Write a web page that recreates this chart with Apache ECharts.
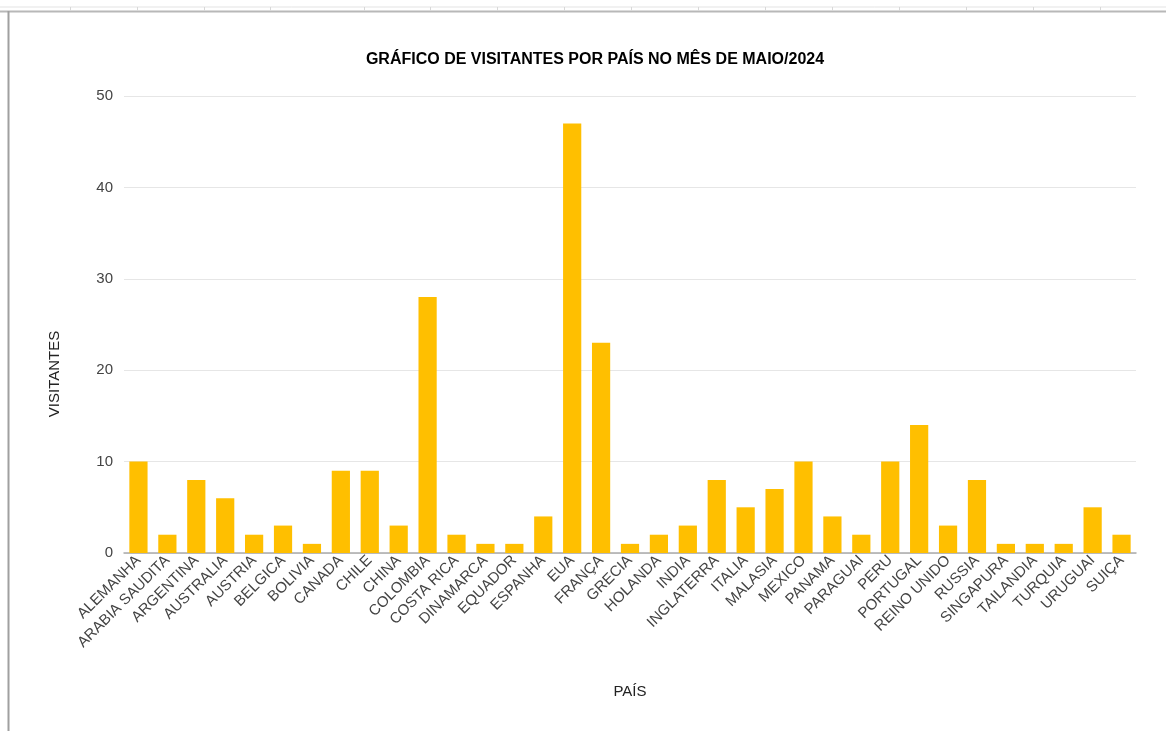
<!DOCTYPE html>
<html>
<head>
<meta charset="utf-8">
<script src="https://cdn.jsdelivr.net/npm/echarts@6/dist/echarts.min.js"></script>
<style>
html,body{margin:0;padding:0;background:#fff;}
#chart{width:1166px;height:731px;}
</style>
</head>
<body>
<div id="chart"></div>
<script>
const categories = ["ALEMANHA","ARABIA SAUDITA","ARGENTINA","AUSTRALIA","AUSTRIA","BELGICA","BOLIVIA","CANADA","CHILE","CHINA","COLOMBIA","COSTA RICA","DINAMARCA","EQUADOR","ESPANHA","EUA","FRANÇA","GRECIA","HOLANDA","INDIA","INGLATERRA","ITALIA","MALASIA","MEXICO","PANAMA","PARAGUAI","PERU","PORTUGAL","REINO UNIDO","RUSSIA","SINGAPURA","TAILANDIA","TURQUIA","URUGUAI","SUIÇA"];
const visitantes = [10,2,8,6,2,3,1,9,9,3,28,2,1,1,4,47,23,1,2,3,8,5,7,10,4,2,10,14,3,8,1,1,1,5,2];
const yTicks = {min:0, max:50, interval:10};
const sheetColumnLines = [70,137,204,270,364,430,497,564,631,698,765,832,899,966,1033,1100];

const FONT = '"Liberation Sans", Arial, sans-serif';
const chart = echarts.init(document.getElementById('chart'), null, {renderer:'canvas'});

const graphics = [
  {type:'line', shape:{x1:0,y1:7,x2:1166,y2:7}, style:{stroke:'#e3e3e3', lineWidth:1}, silent:true},
  {type:'line', shape:{x1:0,y1:11.5,x2:1166,y2:11.5}, style:{stroke:'#b8b8b8', lineWidth:2}, silent:true},
  {type:'line', shape:{x1:8.5,y1:11,x2:8.5,y2:731}, style:{stroke:'#a0a0a0', lineWidth:2}, silent:true},
  {type:'text', x:55, y:374, rotation:Math.PI/2, silent:true,
   style:{text:'VISITANTES', fontFamily:FONT, fontSize:15, fill:'#222', align:'center', verticalAlign:'middle'}}
];
sheetColumnLines.forEach(x => graphics.push({type:'line', shape:{x1:x+0.5,y1:7,x2:x+0.5,y2:11}, style:{stroke:'#d8d8d8', lineWidth:1}, silent:true}));

chart.setOption({
  backgroundColor:'#fff',
  animation:false,
  graphic: graphics,
  title:{
    text:'GRÁFICO DE VISITANTES POR PAÍS NO MÊS DE MAIO/2024',
    left:590, top:47, textAlign:'center',
    textStyle:{fontFamily:FONT, fontSize:16, fontWeight:'bold', color:'#000'}
  },
  grid:{left:124, right:30, top:96, bottom:178, containLabel:false},
  xAxis:{
    type:'category',
    data:categories,
    name:'PAÍS',
    nameLocation:'middle',
    nameGap:131,
    nameTextStyle:{fontFamily:FONT, fontSize:15, color:'#222'},
    axisLine:{show:true, lineStyle:{color:'#aaaaaa', width:1.5}},
    axisTick:{show:false},
    axisLabel:{interval:0, rotate:45, fontFamily:FONT, fontSize:15, color:'#444', margin:5}
  },
  yAxis:{
    type:'value',
    min:yTicks.min, max:yTicks.max, interval:yTicks.interval,
    axisLine:{show:false},
    axisTick:{show:false},
    axisLabel:{fontFamily:FONT, fontSize:15, color:'#444', margin:11},
    splitLine:{lineStyle:{color:'#e6e6e6', width:1}}
  },
  series:[{
    type:'bar',
    data:visitantes,
    barCategoryGap:'37%',
    itemStyle:{color:'#FFBF00'}
  }]
});
</script>
</body>
</html>
